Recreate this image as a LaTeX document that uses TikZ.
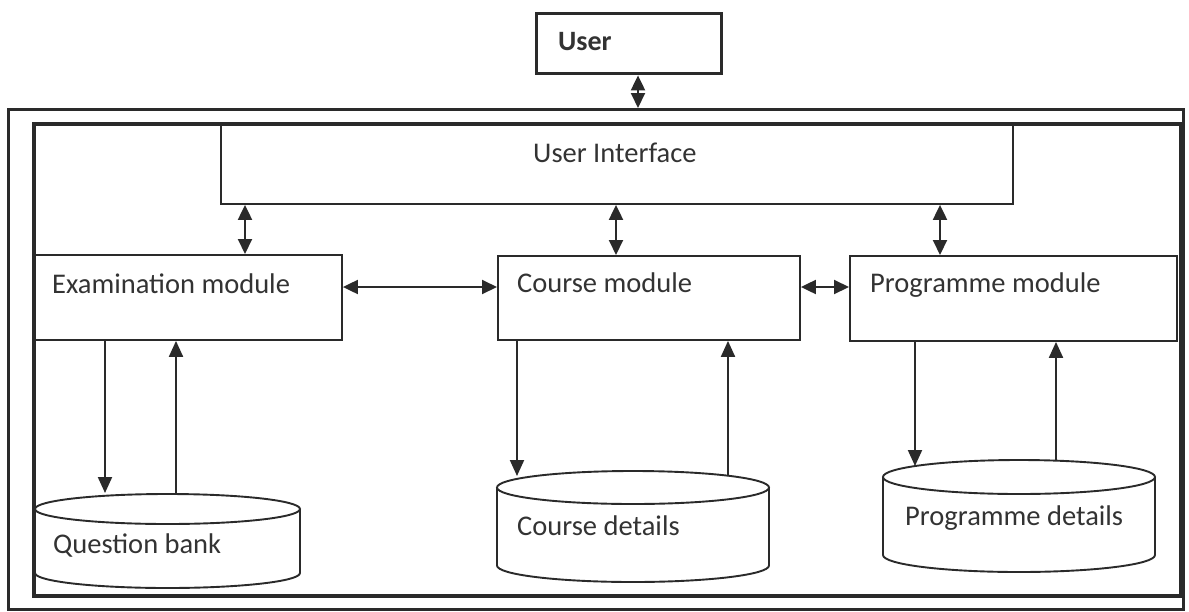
\documentclass[tikz,border=0pt]{standalone}
\usepackage{fontspec}
\setmainfont{Carlito}
\usetikzlibrary{arrows.meta}
\definecolor{ink}{HTML}{2A2A2A}
\definecolor{txt}{HTML}{333333}

% database drum: centre x, centre y of top ellipse, x radius, y radius, body height
\newcommand\dbdrum[5]{%
  \draw[box] (#1-#3,#2) -- (#1-#3,#2+#5)
    arc[start angle=180,end angle=0,x radius=#3,y radius=#4] -- (#1+#3,#2);
  \draw[box] (#1,#2) ellipse[x radius=#3,y radius=#4];}

\begin{document}
\begin{tikzpicture}[x=1pt,y=-1pt,
  box/.style={draw=ink, line width=1.9pt},
  frame/.style={draw=ink, inner sep=0pt, anchor=north west},
  lbl/.style={anchor=base west, inner sep=0pt, text=txt,
              font=\fontsize{28.5}{34}\selectfont},
  arr/.style={draw=ink, line width=2pt, -{Triangle[length=16pt,width=14pt]}},
  darr/.style={draw=ink, line width=2pt,
               {Triangle[length=15pt,width=14pt]}-{Triangle[length=15pt,width=14pt]}},
]
\fill[white] (0,0) rectangle (1189,611);
\useasboundingbox (0,0) rectangle (1189,611);

% frames
\node[frame, line width=2.6pt, minimum width=1175pt, minimum height=500pt] (outer) at (7,108) {};
\node[frame, line width=3.6pt, minimum width=1147pt, minimum height=472pt] (inner) at (32,122) {};

% user
\node[frame, line width=3.4pt, minimum width=185pt, minimum height=60pt] (user) at (535,12) {};
\node[lbl, font=\fontsize{28}{34}\selectfont\bfseries] (user-t) at (558,50) {User};

% user interface
\node[frame, line width=1.9pt, minimum width=792pt, minimum height=81pt] (ui) at (220,122) {};
\node[lbl] (ui-t) at (533,162) {User Interface};

% modules
\node[frame, line width=1.9pt, minimum width=309pt, minimum height=85pt] (exam) at (32,254) {};
\node[lbl] (exam-t) at (52,293) {Examination module};
\node[frame, line width=1.9pt, minimum width=302pt, minimum height=84pt] (course) at (497,255) {};
\node[lbl] (course-t) at (517,292) {Course module};
\node[frame, line width=1.9pt, minimum width=327pt, minimum height=85pt] (prog) at (849,255) {};
\node[lbl] (prog-t) at (870,292) {Programme module};

% data stores
\dbdrum{167.5}{509}{132.5}{15}{64}
\node[lbl] (qb) at (53,553) {Question bank};
\dbdrum{633}{487.5}{136}{16.5}{78}
\node[lbl] (cd) at (517,535) {Course details};
\dbdrum{1019}{477}{136}{17}{78}
\node[lbl] (pd) at (905,525) {Programme details};

% connector columns and rows
\coordinate (ucol) at (638,0);
\coordinate (c1) at (245,0);
\coordinate (c2) at (616,0);
\coordinate (c3) at (940,0);
\coordinate (hrow) at (0,287);
\coordinate (qb-in) at (105,493);
\coordinate (qb-out) at (176,494);
\coordinate (cd-in) at (517,476);
\coordinate (cd-out) at (728,476);
\coordinate (pd-in) at (915,466);
\coordinate (pd-out) at (1056,461);

% user <-> system
\draw[darr] (user.south -| ucol) -- (outer.north -| ucol);

% interface <-> modules
\draw[darr] (ui.south -| c1) -- (exam.north -| c1);
\draw[darr] (ui.south -| c2) -- (course.north -| c2);
\draw[darr] (ui.south -| c3) -- (prog.north -| c3);

% module <-> module
\draw[darr] (exam.east |- hrow) -- (course.west |- hrow);
\draw[darr] (course.east |- hrow) -- (prog.west |- hrow);

% modules <-> data stores
\draw[arr] (exam.south -| qb-in) -- (qb-in);
\draw[arr] (qb-out) -- (exam.south -| qb-out);
\draw[arr] (course.south -| cd-in) -- (cd-in);
\draw[arr] (cd-out) -- (course.south -| cd-out);
\draw[arr] (prog.south -| pd-in) -- (pd-in);
\draw[arr] (pd-out) -- (prog.south -| pd-out);
\end{tikzpicture}
\end{document}
